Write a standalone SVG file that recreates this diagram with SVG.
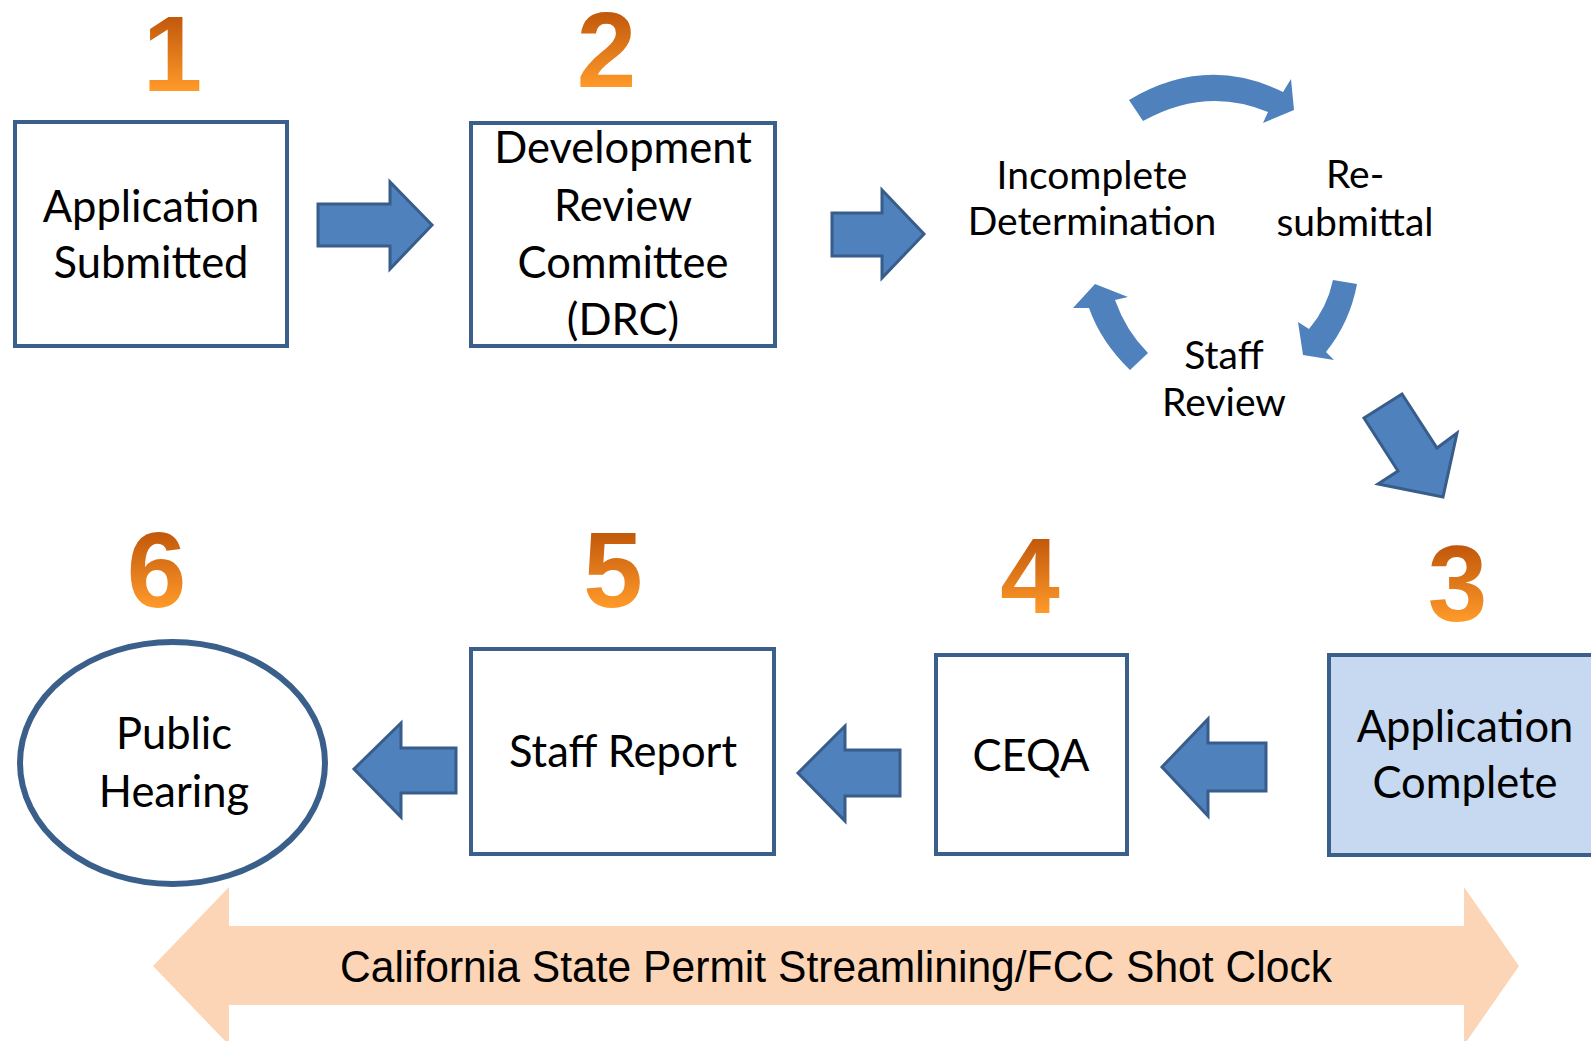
<svg xmlns="http://www.w3.org/2000/svg" width="1591" height="1041" viewBox="0 0 1591 1041">
  <defs>
    <linearGradient id="numGrad" x1="0" y1="0" x2="0" y2="1">
      <stop offset="0.17" stop-color="#C0560A"/>
      <stop offset="0.81" stop-color="#FF9A2A"/>
    </linearGradient>
  </defs>
  <style>
    .box { fill: #FFFFFF; stroke: #3A5F8B; stroke-width: 4; }
    .box-fill { fill: #C6D9F1; stroke: #3A5F8B; stroke-width: 4; }
    .lbl { font-family: Lato, "Liberation Sans", sans-serif; font-size: 43.5px; fill: #000000; text-anchor: middle; }
    .cyc { font-family: Lato, "Liberation Sans", sans-serif; font-size: 39px; fill: #000000; text-anchor: middle; }
    .num { font-family: "Liberation Sans", Arial, sans-serif; font-weight: bold; font-size: 107px; fill: url(#numGrad); text-anchor: middle; }
    .blk { fill: #4F81BD; stroke: #385D8A; stroke-width: 3; stroke-linejoin: miter; }
    .cyc-arrow { fill: #4F81BD; }
    .band { fill: #FBD5B5; }
    .band-text { font-family: "Liberation Sans", Arial, sans-serif; font-size: 44px; fill: #000000; text-anchor: middle; }
  </style>
  <rect width="1591" height="1041" fill="#FFFFFF"/>

  <!-- Step numbers -->
  <g id="numbers">
    <text class="num" x="172.5" y="91">1</text>
    <text class="num" x="606.5" y="87">2</text>
    <text class="num" x="1457.5" y="621">3</text>
    <text class="num" x="1030" y="613">4</text>
    <text class="num" x="613" y="607">5</text>
    <text class="num" x="156.5" y="607">6</text>
  </g>

  <!-- Connectors -->
  <g id="connectors">
    <polygon class="blk" points="318,204 390,204 390,182 432,225 390,269 390,246 318,246"/>
    <polygon class="blk" points="832,213 882,213 882,190 924,234 882,278 882,256 832,256"/>
    <path class="cyc-arrow" d="M1129,100 Q1206,54 1283,92 L1291,79 L1294,110 L1263,123 L1268,112 Q1206,86 1143,121 Z"/>
    <path class="cyc-arrow" d="M1333,280 Q1327,308 1309,329 L1298,322 L1303,355 L1334,360 L1326,352 Q1350,322 1357,284 Z"/>
    <path class="cyc-arrow" d="M1130,370 Q1101,342 1089,308 L1073,308 L1095,284 L1128,297 L1115,300 Q1126,331 1148,353 Z"/>
    <polygon class="blk" points="1364,418 1402,394 1437,448 1457,433 1443,497 1378,484 1398,471"/>
    <polygon class="blk" points="1162,767 1208,719 1208,743 1266,743 1266,791 1208,791 1208,816"/>
    <polygon class="blk" points="798,773 845,726 845,750 900,750 900,796 845,796 845,821"/>
    <polygon class="blk" points="354,769 401,723 401,748 456,748 456,793 401,793 401,817"/>
  </g>

  <!-- Nodes -->
  <g id="node-application-submitted">
    <rect class="box" x="15" y="122" width="272" height="224"/>
    <text class="lbl" x="151" y="222">Application</text>
    <text class="lbl" x="151" y="278">Submitted</text>
  </g>

  <g id="node-drc">
    <rect class="box" x="471" y="123" width="304" height="223"/>
    <text class="lbl" x="623" y="163">Development</text>
    <text class="lbl" x="623" y="221">Review</text>
    <text class="lbl" x="623" y="278">Committee</text>
    <text class="lbl" x="623" y="335">(DRC)</text>
  </g>

  <g id="node-incomplete-determination">
    <text class="cyc" x="1092" y="189">Incomplete</text>
    <text class="cyc" x="1092" y="235">Determination</text>
  </g>

  <g id="node-resubmittal">
    <text class="cyc" x="1355" y="188">Re-</text>
    <text class="cyc" x="1355" y="236">submittal</text>
  </g>

  <g id="node-staff-review">
    <text class="cyc" x="1224" y="369">Staff</text>
    <text class="cyc" x="1224" y="416">Review</text>
  </g>

  <g id="node-application-complete">
    <rect class="box-fill" x="1329" y="655" width="280" height="200"/>
    <text class="lbl" x="1465" y="742">Application</text>
    <text class="lbl" x="1465" y="798">Complete</text>
  </g>

  <g id="node-ceqa">
    <rect class="box" x="936" y="655" width="191" height="199"/>
    <text class="lbl" x="1031" y="771">CEQA</text>
  </g>

  <g id="node-staff-report">
    <rect class="box" x="471" y="649" width="303" height="205"/>
    <text class="lbl" x="623" y="767">Staff Report</text>
  </g>

  <g id="node-public-hearing">
    <ellipse cx="172.5" cy="763" rx="152.5" ry="121" fill="#FFFFFF" stroke="#3A5F8B" stroke-width="6"/>
    <text class="lbl" x="174" y="749">Public</text>
    <text class="lbl" x="174" y="807">Hearing</text>
  </g>

  <g id="node-shot-clock">
    <polygon class="band" points="153,966 229,887 229,926 1464,926 1464,887 1519,966 1464,1045 1464,1005 229,1005 229,1045"/>
    <text class="band-text" x="836" y="982" textLength="992" lengthAdjust="spacingAndGlyphs">California State Permit Streamlining/FCC Shot Clock</text>
  </g>
</svg>
